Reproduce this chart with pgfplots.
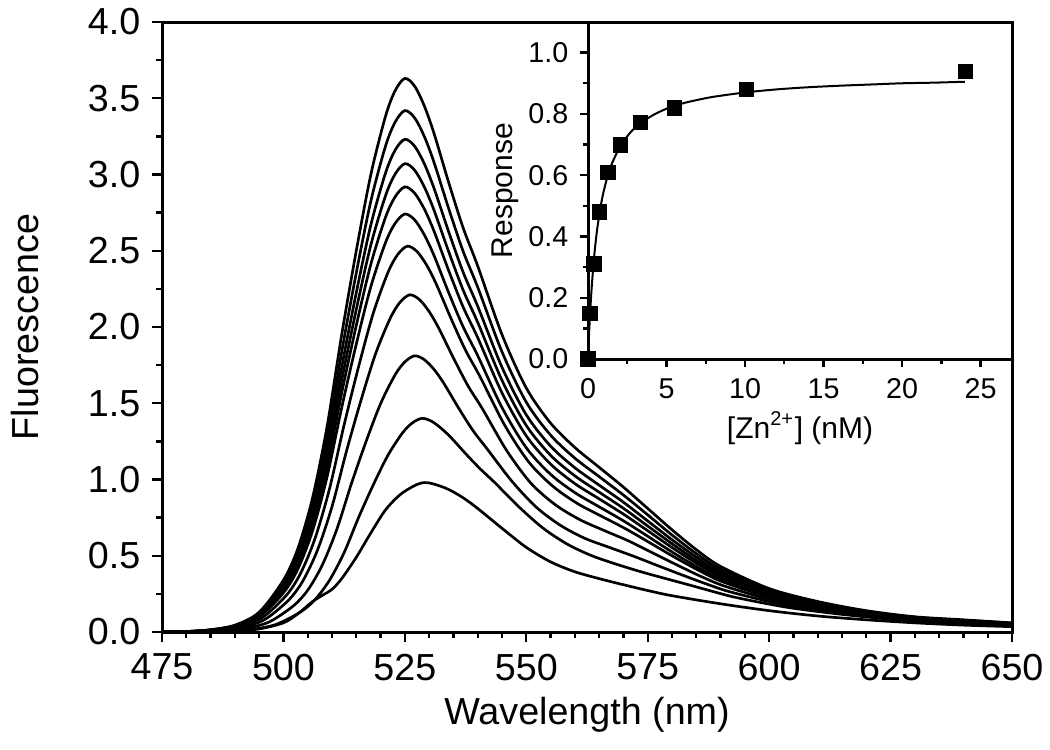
\documentclass[border=0pt]{standalone}
\usepackage{fontspec}
\setmainfont{Liberation Sans}
\usepackage{pgfplots}
\pgfplotsset{compat=1.18}
\usetikzlibrary{calc}

% emission spectra, one table per Zn2+ concentration (top to bottom)
\pgfplotstableread{
x y
475 0
480 0.003
485 0.015
490 0.045
495 0.13
500 0.34
503 0.55
506 0.88
509 1.35
512 1.95
515 2.50
518 3.00
521 3.38
523 3.55
525 3.63
527 3.58
529 3.45
531 3.27
534 2.95
537 2.65
540 2.40
545 1.95
550 1.60
555 1.37
560 1.21
565 1.08
570 0.95
575 0.81
580 0.67
585 0.54
590 0.43
600 0.285
610 0.20
620 0.14
630 0.10
640 0.08
650 0.06
}\sA
\pgfplotstableread{
x y
475 0
480 0.003
485 0.014
490 0.042
495 0.122
500 0.320
503 0.518
506 0.829
509 1.272
512 1.837
515 2.355
518 2.826
521 3.184
523 3.344
525 3.419
527 3.372
529 3.250
531 3.080
534 2.779
537 2.496
540 2.261
545 1.837
550 1.507
555 1.291
560 1.140
565 1.019
570 0.898
575 0.768
580 0.636
585 0.514
590 0.411
600 0.274
610 0.193
620 0.135
630 0.097
640 0.077
650 0.058
}\sB
\pgfplotstableread{
x y
475 0
480 0.003
485 0.013
490 0.040
495 0.116
500 0.303
503 0.490
506 0.783
509 1.202
512 1.736
515 2.225
518 2.670
521 3.008
523 3.160
525 3.231
527 3.186
529 3.071
531 2.910
534 2.626
537 2.359
540 2.136
545 1.736
550 1.424
555 1.219
560 1.077
565 0.963
570 0.851
575 0.728
580 0.605
585 0.491
590 0.393
600 0.263
610 0.186
620 0.131
630 0.094
640 0.075
650 0.056
}\sC
\pgfplotstableread{
x y
475 0
480 0.003
485 0.013
490 0.038
495 0.110
500 0.288
503 0.465
506 0.744
509 1.142
512 1.650
515 2.115
518 2.538
521 2.859
523 3.003
525 3.071
527 3.029
529 2.919
531 2.766
534 2.496
537 2.242
540 2.030
545 1.650
550 1.354
555 1.159
560 1.024
565 0.917
570 0.811
575 0.695
580 0.579
585 0.470
590 0.379
600 0.254
610 0.180
620 0.127
630 0.091
640 0.073
650 0.055
}\sD
\pgfplotstableread{
x y
475 0
480 0.002
485 0.012
490 0.036
495 0.105
500 0.273
503 0.442
506 0.708
509 1.085
512 1.568
515 2.010
518 2.412
521 2.718
523 2.854
525 2.919
527 2.878
529 2.774
531 2.629
534 2.372
537 2.131
540 1.930
545 1.568
550 1.286
555 1.101
560 0.973
565 0.873
570 0.773
575 0.664
580 0.554
585 0.452
590 0.364
600 0.246
610 0.175
620 0.123
630 0.089
640 0.071
650 0.054
}\sE
\pgfplotstableread{
x y
475 0
480 0.002
485 0.011
490 0.034
495 0.098
500 0.257
503 0.415
506 0.664
509 1.019
512 1.472
515 1.888
518 2.265
521 2.552
523 2.680
525 2.741
527 2.703
529 2.605
531 2.469
534 2.227
537 2.001
540 1.812
545 1.472
550 1.208
555 1.034
560 0.914
565 0.821
570 0.729
575 0.628
580 0.525
585 0.430
590 0.348
600 0.236
610 0.169
620 0.119
630 0.086
640 0.069
650 0.052
}\sF
\pgfplotstableread{
x y
475 0
480.5 0.002
485.5 0.010
490.5 0.031
495.5 0.091
500.5 0.237
503.5 0.383
506.5 0.613
509.5 0.941
512.5 1.359
515.5 1.743
518.5 2.091
521.5 2.356
523.5 2.474
525.5 2.530
527.5 2.495
529.5 2.405
531.5 2.279
534.5 2.056
537.5 1.847
540.5 1.673
545.5 1.359
550.5 1.115
555.5 0.955
560.5 0.843
565.5 0.759
570.5 0.676
575.5 0.584
580.5 0.491
585.5 0.404
590.5 0.328
600.5 0.225
610.5 0.161
620.5 0.115
630.5 0.082
640.5 0.066
650 0.050
}\sG
\pgfplotstableread{
x y
475 0
481 0.002
486 0.009
491 0.027
496 0.079
501 0.207
504 0.335
507 0.536
510 0.822
513 1.188
516 1.523
519 1.827
522 2.058
524 2.162
526 2.211
528 2.180
530 2.101
532 1.991
535 1.797
538 1.614
541 1.462
546 1.188
551 0.974
556 0.834
561 0.737
566 0.666
571 0.598
576 0.519
581 0.440
586 0.364
591 0.299
601 0.207
611 0.150
621 0.107
631 0.077
641 0.062
650 0.048
}\sH
\pgfplotstableread{
x y
475 0
482 0.0015
487 0.007
492 0.022
497 0.065
502 0.170
505 0.274
508 0.439
511 0.674
514 0.973
517 1.248
520 1.497
523 1.687
525 1.771
527 1.811
529 1.786
531 1.722
533 1.632
536 1.472
539 1.322
542 1.198
547 0.990
552 0.820
557 0.700
562 0.615
567 0.556
572 0.498
577 0.436
582 0.375
587 0.316
592 0.263
602 0.186
612 0.136
622 0.098
632 0.071
642 0.058
650 0.045
}\sI
\pgfplotstableread{
x y
475 0
483.5 0.001
488.5 0.006
493.5 0.017
498.5 0.050
503.5 0.131
506.5 0.212
509.5 0.340
512.5 0.521
515.5 0.753
518.5 0.965
521.5 1.158
524.5 1.305
526.5 1.370
528.5 1.401
530.5 1.382
532.5 1.335
534.5 1.275
537.5 1.170
540.5 1.070
543.5 0.980
548.5 0.820
553.5 0.680
558.5 0.575
563.5 0.500
568.5 0.445
573.5 0.396
578.5 0.352
583.5 0.309
588.5 0.265
593.5 0.224
603.5 0.163
613.5 0.121
623.5 0.088
633.5 0.064
643.5 0.052
650 0.043
}\sJ
\pgfplotstableread{
x y
475 0
480 0
485 0.002
490 0.008
495 0.02
500 0.06
503 0.12
506 0.20
508 0.24
510 0.28
512 0.35
515 0.49
518 0.65
521 0.80
524 0.90
527 0.96
529 0.98
531 0.97
534 0.935
537 0.88
540 0.81
545 0.68
550 0.555
555 0.46
560 0.395
565 0.35
570 0.31
575 0.272
580 0.238
590 0.185
600 0.14
610 0.105
620 0.08
630 0.06
640 0.045
650 0.035
}\sK

\begin{document}
\begin{tikzpicture}
\pgfplotsset{
  every axis/.append style={
    scale only axis,
    tick align=outside,
    xtick pos=bottom, ytick pos=left,
    axis line style={line width=0.9pt},
    every tick/.style={black, line width=0.7pt},
    /pgf/number format/assume math mode=true,
  },
  spec/.style={black, solid, line width=0.8pt, smooth, mark=none},
}
\begin{axis}[
  name=main,
  width=255pt, height=183pt,
  xmin=475, xmax=650, ymin=0, ymax=4,
  xtick={475,500,525,550,575,600,625,650},
  ytick={0,0.5,1.0,1.5,2.0,2.5,3.0,3.5,4.0},
  minor x tick num=4, minor y tick num=1,
  major tick length=3pt, minor tick length=1.8pt,
  yticklabel style={/pgf/number format/fixed, /pgf/number format/fixed zerofill, /pgf/number format/precision=1},
  tick label style={font=\fontsize{11.3}{13}\selectfont},
  label style={font=\fontsize{11.3}{13}\selectfont},
  xlabel={Wavelength (nm)}, ylabel={Fluorescence},
  xlabel style={at={(axis description cs:0.5,-0.136)}, anchor=center},
  ylabel style={at={(axis description cs:-0.161,0.5)}, anchor=center},
]
\addplot[spec] table {\sA};
\addplot[spec] table {\sB};
\addplot[spec] table {\sC};
\addplot[spec] table {\sD};
\addplot[spec] table {\sE};
\addplot[spec] table {\sF};
\addplot[spec] table {\sG};
\addplot[spec] table {\sH};
\addplot[spec] table {\sI};
\addplot[spec] table {\sJ};
\addplot[spec] table {\sK};
\end{axis}

\begin{axis}[
  at={(main.north east)}, anchor=north east,
  width=127.2pt, height=101.1pt,
  xmin=0, xmax=27, ymin=0, ymax=1.1,
  xtick={0,5,10,15,20,25},
  ytick={0,0.2,0.4,0.6,0.8,1.0},
  minor x tick num=1, minor y tick num=1,
  major tick length=2.4pt, minor tick length=1.5pt,
  axis background/.style={fill=white},
  yticklabel style={/pgf/number format/fixed, /pgf/number format/fixed zerofill, /pgf/number format/precision=1},
  tick label style={font=\fontsize{8.6}{10}\selectfont},
  label style={font=\fontsize{9}{11}\selectfont},
  xlabel={[Zn\textsuperscript{2+}] (nM)}, ylabel={Response},
  xlabel style={at={(axis description cs:0.5,-0.205)}, anchor=center},
  ylabel style={at={(axis description cs:-0.195,0.5)}, anchor=center},
]
\addplot[black, line width=0.6pt, smooth] coordinates {
  (0,0) (0.05,0.062) (0.1,0.116) (0.2,0.207) (0.3,0.279) (0.4,0.339)
  (0.5,0.388) (0.6,0.430) (0.8,0.497) (1.0,0.548) (1.25,0.597)
  (1.5,0.635) (2.0,0.690) (2.5,0.727) (3.0,0.755) (4.0,0.792)
  (5.0,0.817) (6.0,0.834) (7.0,0.846) (8.0,0.856) (10,0.870)
  (12,0.880) (14,0.887) (16,0.892) (18,0.896) (20,0.900)
  (22,0.902) (24,0.905)
};
\addplot[only marks, mark=square*, mark size=2.1pt, black] coordinates {
  (0,0) (0.12,0.148) (0.38,0.31) (0.74,0.48) (1.27,0.609)
  (2.08,0.699) (3.33,0.773) (5.51,0.819) (10.1,0.88) (24.05,0.938)
};
\end{axis}

\pgfresetboundingbox
\path ($(main.south west)+(-48.6pt,-35.1pt)$) rectangle ($(main.north east)+(11.4pt,6.6pt)$);
\end{tikzpicture}
\end{document}
